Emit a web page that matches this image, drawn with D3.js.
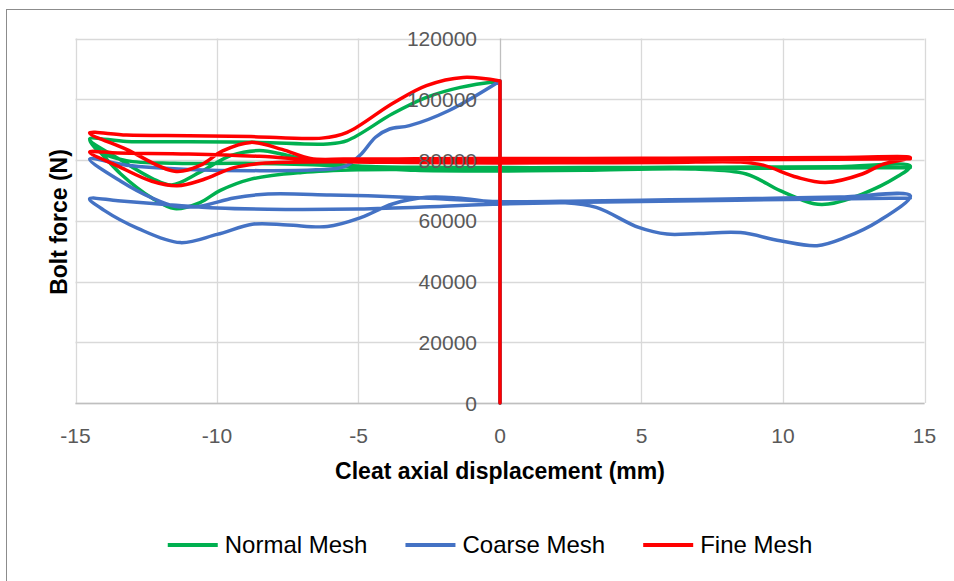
<!DOCTYPE html>
<html lang="en">
<head>
<meta charset="utf-8">
<script src="https://d3js.org/d3.v7.min.js"></script>
<style>
  body { margin: 0; background: #fff; font-family: 'Liberation Sans', Arial, sans-serif; }
  svg { display: block; }
</style>
</head>
<body>
<div id="chart"></div>
<script>

// Normal Mesh (green)
var normalX = [0,0,-1.4,-2.6,-3.8,-5.4,-6.1,-8.5,-11,-13.2,-14.5,
  -13.4,-12.3,-11.6,-10.6,-9.5,-8.5,-7.5,-6.3,-5,-3,0,3,6,9,12,14.5,
  14,12.8,11.6,11.1,9.9,8.7,6.9,3,0,-3,-6,-9,-11.5,-13.2,-14.2,-14.5,
  -13.4,-12.3,-11.5,-10.6,-9.9,-8.8,-7,-5,0,7,14.5];
var normalY = [0,106000,103900,100600,95200,86400,85300,85800,86000,86100,86900,
  80000,74000,71800,76000,81500,83100,81500,79200,78000,77600,77500,77500,77600,77700,77800,78000,
  74300,68800,65500,65600,69900,75400,77000,76600,76400,76600,78200,78900,78900,79800,83000,86500,
  75400,67500,64000,66000,69900,73700,75900,76800,77000,77200,77500];

// Coarse Mesh (blue)
var coarseX = [0,0,-1.8,-3.2,-3.9,-4.4,-4.9,-5.5,-6.5,-8.5,-11,-13.2,-14.5,
  -13.4,-12.3,-11.5,-10.6,-9.4,-8.2,-6,-4,-2,0,3,6,9,12,14.5,
  13.4,12.2,11.2,9.9,8.5,7,5.9,4.9,3.4,2.2,0,-1.5,-2.6,-3.8,-4.9,-6.1,-7.5,-8.7,-10,-11.3,-12.8,-14,-14.5,
  -13.5,-11.6,-10,-8.2,-5,-2,0,3,7,11,14.5];
var coarseY = [0,106000,96300,91300,90200,87500,82000,77800,76800,76500,76900,78300,80300,
  73000,67500,64800,64800,67500,68800,68500,68000,67200,66300,66500,66900,67300,67800,68200,
  60000,54500,51800,53400,56100,55800,55600,57800,64400,66000,66000,67500,67700,65500,61100,58100,58600,58900,55500,52800,57500,63500,67200,
  66600,65200,64200,63800,63900,64800,65500,66100,66600,67100,67500];

// Fine Mesh (red)
var fineX = [0,0,-1.3,-2.6,-3.8,-5.4,-6.3,-8.8,-11,-13.2,-14.5,
  -13.2,-11.5,-10.6,-9.8,-8.8,-7.7,-6.7,-5.5,-3,0,3,6,9,12,14.5,
  13.5,12.8,11.5,10.5,9.3,8.5,6,3,0,-3,-6,-8.5,-11,-13.5,-14.5,
  -13.5,-12.3,-11.4,-10.5,-9.4,-8.3,-6,-3,0,5,10,14.5];
var fineY = [0,106000,107200,104500,98600,89100,87200,87700,88000,88200,88900,
  83500,76300,78200,83000,85800,83500,80500,80300,80400,80500,80500,80600,80700,80800,80800,
  78500,75400,72600,74300,78300,79300,79200,79100,79000,79200,79600,81200,82000,82300,82600,
  78000,73000,71500,73500,77500,79000,79400,79700,79800,80000,80200,80400];

var seriesNames = ['Normal Mesh', 'Coarse Mesh', 'Fine Mesh'];
var seriesColors = ['#00B050', '#4472C4', '#FF0000'];
var xTicks = [-15, -10, -5, 0, 5, 10, 15];
var yTicks = [0, 20000, 40000, 60000, 80000, 100000, 120000];
var xTitle = 'Cleat axial displacement (mm)';
var yTitle = 'Bolt force (N)';

////////////////////////////////////////////////////////////
//////////////////// Scales and svg ////////////////////////
////////////////////////////////////////////////////////////

var width = 954, height = 581;
var plot = {left: 75.5, right: 924.5, top: 38.5, bottom: 403};

var x = d3.scaleLinear().domain([-15, 15]).range([plot.left, plot.right]);
var y = d3.scaleLinear().domain([0, 120000]).range([plot.bottom, plot.top]);

var svg = d3.select('#chart').append('svg')
  .attr('width', width)
  .attr('height', height);

// chart border
svg.append('rect')
  .attr('x', 6.5).attr('y', 9.5)
  .attr('width', 980).attr('height', 620)
  .style('fill', 'none')
  .style('stroke', '#8C8C8C')
  .style('stroke-width', 1);

////////////////////////////////////////////////////////////
/////////////////////// Gridlines //////////////////////////
////////////////////////////////////////////////////////////

svg.append('g').selectAll('line.hgrid')
  .data(yTicks)
  .enter().append('line')
  .attr('class', 'hgrid')
  .attr('x1', plot.left).attr('x2', plot.right)
  .attr('y1', function(d) { return Math.round(y(d)) + 0.5; })
  .attr('y2', function(d) { return Math.round(y(d)) + 0.5; })
  .style('stroke', '#D9D9D9')
  .style('stroke-width', 1.3);

svg.append('g').selectAll('line.vgrid')
  .data(xTicks)
  .enter().append('line')
  .attr('class', 'vgrid')
  .attr('y1', plot.top).attr('y2', plot.bottom)
  .attr('x1', function(d) { return Math.round(x(d)) + 0.5; })
  .attr('x2', function(d) { return Math.round(x(d)) + 0.5; })
  .style('stroke', function(d) { return d === 0 ? '#BFBFBF' : '#D9D9D9'; })
  .style('stroke-width', 1.3);

// horizontal axis line
svg.append('line')
  .attr('x1', plot.left).attr('x2', plot.right)
  .attr('y1', Math.round(y(0)) + 0.5).attr('y2', Math.round(y(0)) + 0.5)
  .style('stroke', '#BFBFBF')
  .style('stroke-width', 1.3);

////////////////////////////////////////////////////////////
//////////////////////// Series ////////////////////////////
////////////////////////////////////////////////////////////

var series = [
  {name: seriesNames[0], color: seriesColors[0], xs: normalX, ys: normalY},
  {name: seriesNames[1], color: seriesColors[1], xs: coarseX, ys: coarseY},
  {name: seriesNames[2], color: seriesColors[2], xs: fineX, ys: fineY}
];

var line = d3.line()
  .x(function(d) { return x(d[0]); })
  .y(function(d) { return y(d[1]); })
  .curve(d3.curveCatmullRom.alpha(0.5));

//first step (preload) is straight, the cycles after it are smoothed
function seriesPath(s) {
  var pts = d3.zip(s.xs, s.ys);
  var head = 'M' + x(pts[0][0]) + ',' + y(pts[0][1]);
  return head + line(pts.slice(1)).replace(/^M/, 'L');
}

svg.append('g').selectAll('path.series')
  .data(series)
  .enter().append('path')
  .attr('class', 'series')
  .attr('d', seriesPath)
  .style('fill', 'none')
  .style('stroke', function(s) { return s.color; })
  .style('stroke-width', 3.5)
  .style('stroke-linejoin', 'round')
  .style('stroke-linecap', 'round');

////////////////////////////////////////////////////////////
///////////////////////// Labels ///////////////////////////
////////////////////////////////////////////////////////////

svg.append('g').selectAll('text.ytick')
  .data(yTicks)
  .enter().append('text')
  .attr('class', 'ytick')
  .attr('x', x(0) - 23)
  .attr('y', function(d) { return y(d) + 7.5; })
  .attr('text-anchor', 'end')
  .style('font-size', '21px')
  .style('fill', '#595959')
  .text(function(d) { return d; });

svg.append('g').selectAll('text.xtick')
  .data(xTicks)
  .enter().append('text')
  .attr('class', 'xtick')
  .attr('x', function(d) { return x(d); })
  .attr('y', y(0) + 40)
  .attr('text-anchor', 'middle')
  .style('font-size', '21px')
  .style('fill', '#595959')
  .text(function(d) { return d; });

svg.append('text')
  .attr('x', x(0))
  .attr('y', 479)
  .attr('text-anchor', 'middle')
  .style('font-size', '23px')
  .style('font-weight', 'bold')
  .style('fill', '#000')
  .text(xTitle);

svg.append('text')
  .attr('transform', 'translate(67,222) rotate(-90)')
  .attr('text-anchor', 'middle')
  .style('font-size', '23px')
  .style('font-weight', 'bold')
  .style('fill', '#000')
  .text(yTitle);

////////////////////////////////////////////////////////////
///////////////////////// Legend ///////////////////////////
////////////////////////////////////////////////////////////

var legend = svg.append('g');
var items = legend.selectAll('g.item')
  .data(series)
  .enter().append('g')
  .attr('class', 'item');

items.append('line')
  .attr('x1', 0).attr('x2', 50)
  .attr('y1', 545).attr('y2', 545)
  .style('stroke', function(s) { return s.color; })
  .style('stroke-width', 4);

items.append('text')
  .attr('x', 57)
  .attr('y', 553)
  .style('font-size', '24px')
  .style('fill', '#000')
  .text(function(s) { return s.name; });

// lay legend items out side by side, centred
var widths = [];
items.each(function() { widths.push(57 + d3.select(this).select('text').node().getComputedTextLength()); });
var gap = 38;
var total = d3.sum(widths) + gap * (widths.length - 1);
var pos = 490 - total / 2;
items.attr('transform', function(d, i) {
  var t = 'translate(' + pos + ',0)';
  pos += widths[i] + gap;
  return t;
});

</script>
</body>
</html>
